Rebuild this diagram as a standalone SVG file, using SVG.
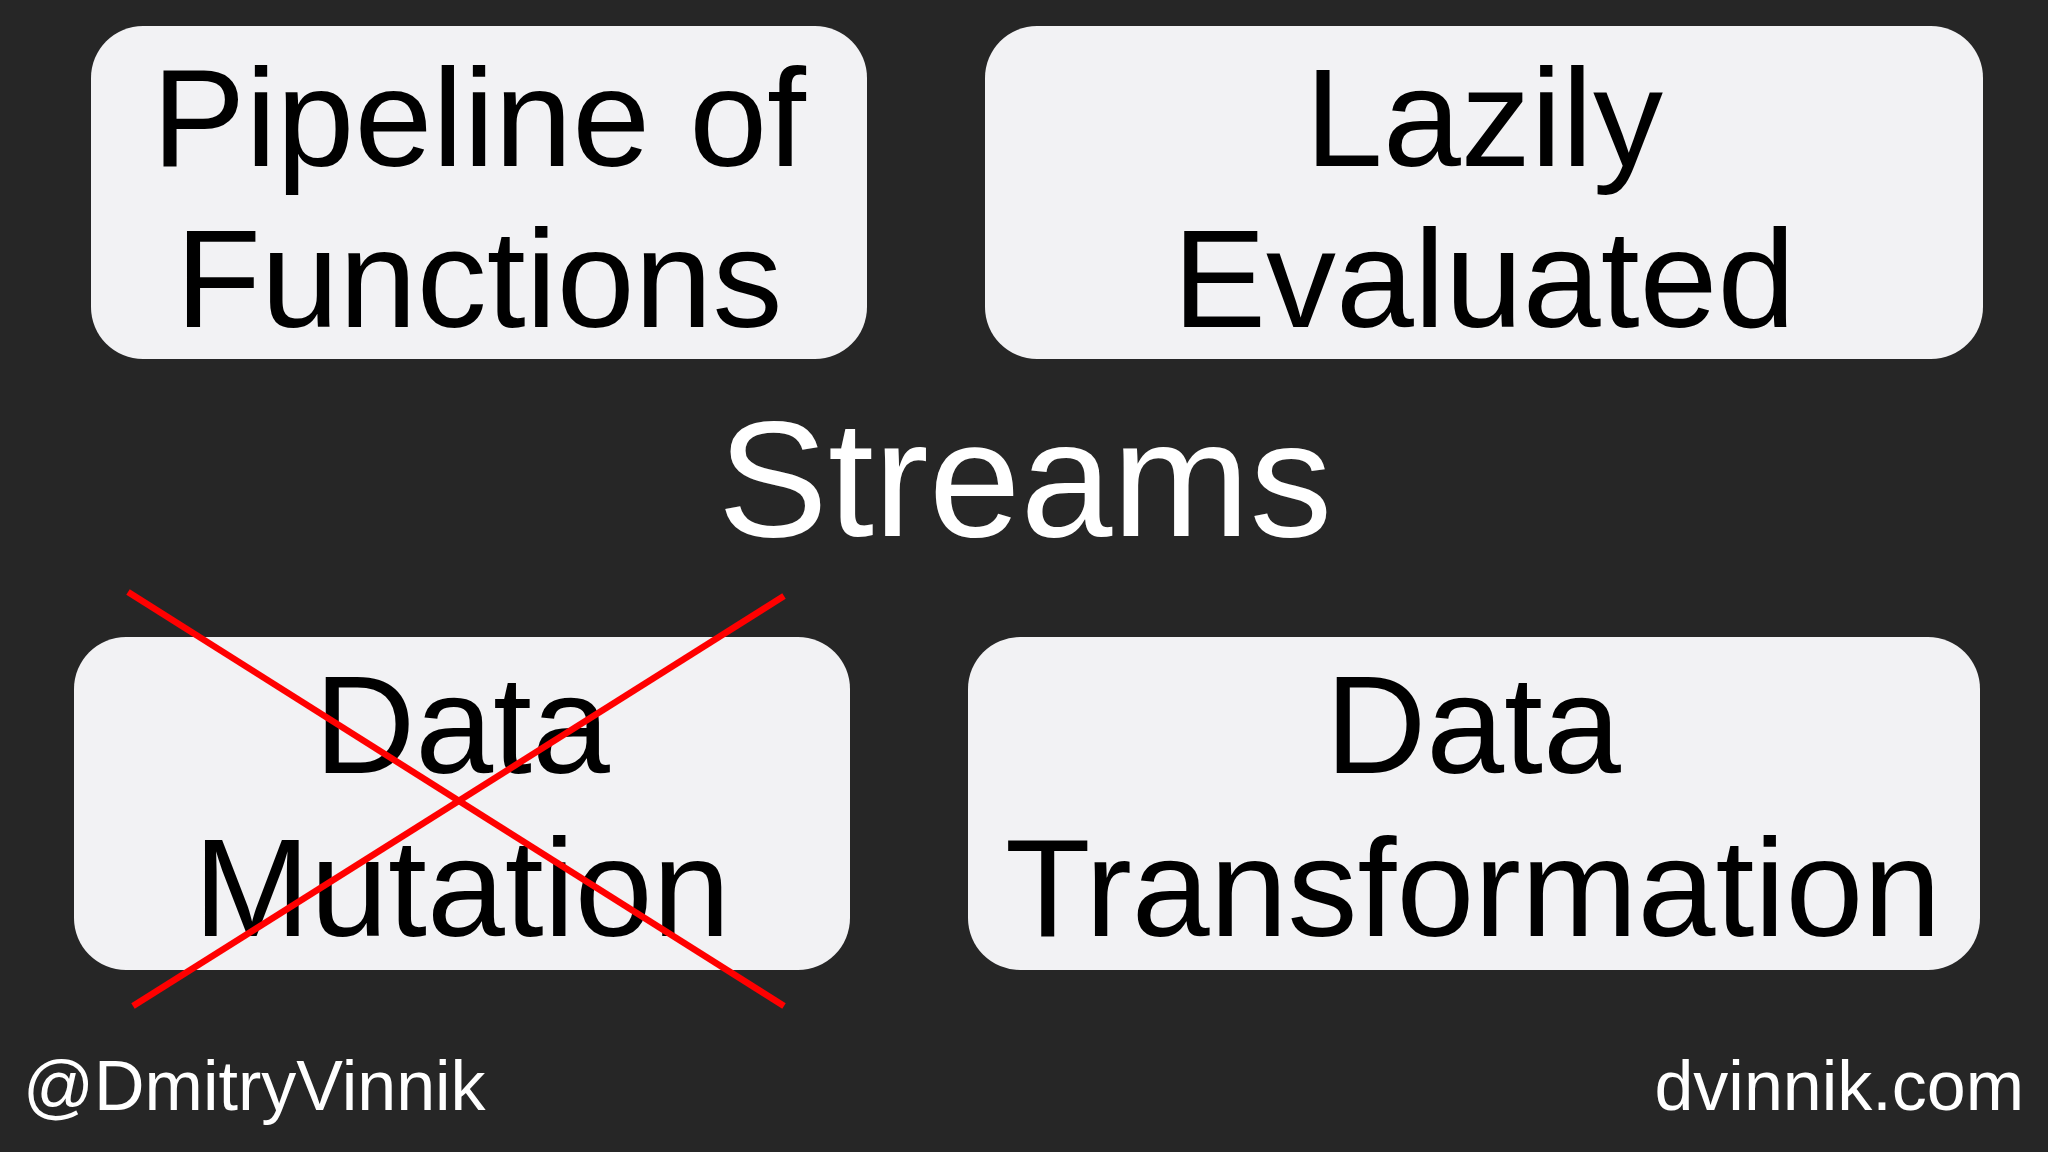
<svg xmlns="http://www.w3.org/2000/svg" width="2048" height="1152" viewBox="0 0 2048 1152">
<style>
.box{fill:#f2f2f4;}
.t{font-family:"Liberation Sans",Arial,sans-serif;font-size:140px;fill:#000;text-anchor:middle;}
.w{font-family:"Liberation Sans",Arial,sans-serif;fill:#fff;}
.x{stroke:#f00;stroke-width:6.5;}
</style>
<rect width="2048" height="1152" fill="#262626"/>
<g id="pipeline"><rect class="box" x="91" y="26" width="776" height="333" rx="52"/>
<text class="t" x="479" y="166">Pipeline of</text><text class="t" x="479" y="327">Functions</text></g>
<g id="lazily"><rect class="box" x="985" y="26" width="998" height="333" rx="52"/>
<text class="t" x="1484" y="166">Lazily</text><text class="t" x="1484" y="327">Evaluated</text></g>
<g id="streams"><text class="w" x="1025" y="536" font-size="165" text-anchor="middle">Streams</text></g>
<g id="mutation"><rect class="box" x="74" y="637" width="776" height="333" rx="52"/>
<text class="t" x="462" y="773">Data</text><text class="t" x="462" y="936">Mutation</text></g>
<g id="transformation"><rect class="box" x="968" y="637" width="1012" height="333" rx="52"/>
<text class="t" x="1473" y="773">Data</text><text class="t" x="1473" y="936">Transformation</text></g>
<g id="connectors"><line class="x" x1="128" y1="592" x2="784" y2="1006"/><line class="x" x1="133" y1="1006" x2="784" y2="596"/></g>
<g id="footer"><text class="w" x="23" y="1110" font-size="70">@DmitryVinnik</text>
<text class="w" x="2024" y="1110" font-size="70" text-anchor="end">dvinnik.com</text></g>
</svg>
